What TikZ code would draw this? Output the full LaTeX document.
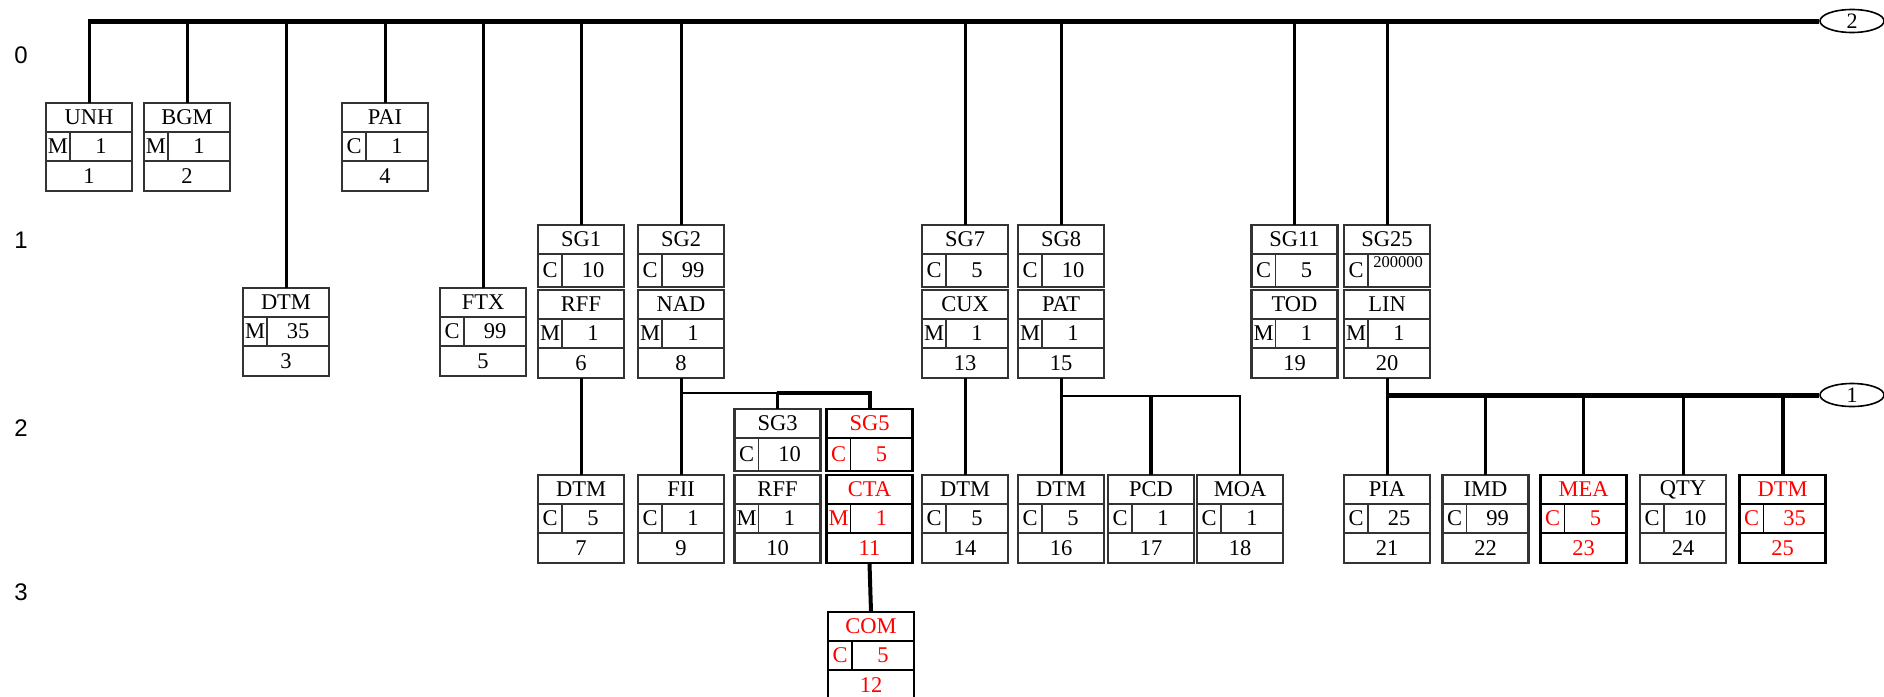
\documentclass[tikz,border=0pt]{standalone}
\usepackage{fontspec}
\setmainfont{Liberation Serif}
\newfontfamily\labelfont{Liberation Sans}
\usetikzlibrary{calc,shapes.geometric}
\tikzset{
 boxline/.style={draw=black!80, line width=2.2pt},
 redline/.style={draw=black, line width=2.6pt},
 inner/.style={line width=1.8pt},
 frame/.style={rectangle, inner sep=0pt, outer sep=0pt, minimum width=86pt},
 txt/.style={inner sep=0pt, font=\fontsize{22.5}{22.5}\selectfont},
 conn/.style={line width=3pt},
 thinconn/.style={line width=2.5pt},
 thickconn/.style={line width=4pt},
 bus/.style={line width=5pt},
 oval/.style={ellipse, draw, line width=1.6pt, minimum width=64pt, minimum height=23pt, inner sep=0pt, font=\fontsize{22}{22}\selectfont},
 lvl/.style={font=\labelfont\fontsize{24}{24}\selectfont, inner sep=0pt},
}
% #1 name, #2 centre x, #3 top, #4 tag, #5 status, #6 repeat, #7 position, #8 text colour, #9 border style
\newcommand\segbox[9]{%
 \begin{scope}[shift={(#2-43,#3)}]
  \node[frame, minimum height=88pt, #9] (#1) at (43,44) {};
  \draw[#9,inner] (0,29) -- (86,29) (0,58) -- (86,58) (24,29) -- (24,58);
  \node[txt,text=#8] at (43,14.5) {#4};
  \node[txt,text=#8] at (12,43.5) {#5};
  \node[txt,text=#8] at (55,43.5) {#6};
  \node[txt,text=#8] at (43,73) {#7};
 \end{scope}}
% #1 name, #2 centre x, #3 top, #4 tag, #5 repeat, #6 text colour, #7 border style
\newcommand\sgbox[7]{%
 \begin{scope}[shift={(#2-43,#3)}]
  \node[frame, minimum height=62pt, #7] (#1) at (43,31) {};
  \draw[#7,inner] (0,29) -- (86,29) (24,29) -- (24,62);
  \node[txt,text=#6] at (43,14.5) {#4};
  \node[txt,text=#6] at (12,45.5) {C};
  \node[txt,text=#6] at (55,45.5) {#5};
 \end{scope}}
\begin{document}
\begin{tikzpicture}[x=1pt,y=-1pt]
\useasboundingbox[fill=white] (0,0) rectangle (1884,696);

% level labels
\node[lvl] (L0) at (21,55) {0};
\node[lvl] (L1) at (21,240) {1};
\node[lvl] (L2) at (21,428) {2};
\node[lvl] (L3) at (21,592) {3};

% level 0
\segbox{UNH}{89}{103}{UNH}{M}{1}{1}{black}{boxline}
\segbox{BGM}{187}{103}{BGM}{M}{1}{2}{black}{boxline}
\segbox{PAI}{385}{103}{PAI}{C}{1}{4}{black}{boxline}

% level 1
\segbox{DTMc}{286}{288}{DTM}{M}{35}{3}{black}{boxline}
\segbox{FTX}{483}{288}{FTX}{C}{99}{5}{black}{boxline}
\sgbox{SG1}{581}{225}{SG1}{10}{black}{boxline}
\segbox{RFFa}{581}{290}{RFF}{M}{1}{6}{black}{boxline}
\sgbox{SG2}{681}{225}{SG2}{99}{black}{boxline}
\segbox{NAD}{681}{290}{NAD}{M}{1}{8}{black}{boxline}
\sgbox{SG7}{965}{225}{SG7}{5}{black}{boxline}
\segbox{CUX}{965}{290}{CUX}{M}{1}{13}{black}{boxline}
\sgbox{SG8}{1061}{225}{SG8}{10}{black}{boxline}
\segbox{PAT}{1061}{290}{PAT}{M}{1}{15}{black}{boxline}
\sgbox{SG11}{1294.5}{225}{SG11}{5}{black}{boxline}
\segbox{TOD}{1294.5}{290}{TOD}{M}{1}{19}{black}{boxline}
\sgbox{SG25}{1387}{225}{SG25}{}{black}{boxline}
\node[inner sep=0pt, font=\fontsize{16.5}{16.5}\selectfont] (SG25n) at ($(SG25.north west)+(54,37)$) {200000};
\segbox{LIN}{1387}{290}{LIN}{M}{1}{20}{black}{boxline}

% level 2
\sgbox{SG3}{777.5}{409}{SG3}{10}{black}{boxline}
\sgbox{SG5}{869.5}{409}{SG5}{5}{red}{redline}
\segbox{DTMg}{581}{475}{DTM}{C}{5}{7}{black}{boxline}
\segbox{FII}{681}{475}{FII}{C}{1}{9}{black}{boxline}
\segbox{RFFj}{777.5}{475}{RFF}{M}{1}{10}{black}{boxline}
\segbox{CTA}{869.5}{475}{CTA}{M}{1}{11}{red}{redline}
\segbox{DTMn}{965}{475}{DTM}{C}{5}{14}{black}{boxline}
\segbox{DTMp}{1061}{475}{DTM}{C}{5}{16}{black}{boxline}
\segbox{PCD}{1151}{475}{PCD}{C}{1}{17}{black}{boxline}
\segbox{MOA}{1240}{475}{MOA}{C}{1}{18}{black}{boxline}
\segbox{PIA}{1387}{475}{PIA}{C}{25}{21}{black}{boxline}
\segbox{IMD}{1485.5}{475}{IMD}{C}{99}{22}{black}{boxline}
\segbox{MEA}{1583.5}{475}{MEA}{C}{5}{23}{red}{redline}
\segbox{QTY}{1683}{475}{QTY}{C}{10}{24}{black}{boxline}
\segbox{DTMy}{1782.5}{475}{DTM}{C}{35}{25}{red}{redline}

% level 3
\segbox{COM}{871}{612}{COM}{C}{5}{12}{red}{redline}

% main bus
\node[oval] (e2) at (1852,21) {2};
\coordinate (b0) at (0,21);
\draw[bus] ([xshift=-1.5pt]UNH.north |- b0) -- (e2.west);
\foreach \n in {UNH,BGM,DTMc,PAI,FTX,SG1,SG2,SG7,SG8,SG11,SG25}
  \draw[conn] (\n.north |- b0) -- (\n.north);

% NAD group
\coordinate (s1) at (0,393);
\draw[conn] (NAD.south) -- (FII.north);
\draw[thinconn] (NAD.south |- s1) -- (SG3.north |- s1);
\draw[thickconn] ([xshift=-1pt]SG3.north |- s1) -- ([xshift=2pt]SG5.north |- s1);
\draw[thinconn] (SG3.north |- s1) -- (SG3.north);
\draw[thickconn] (SG5.north |- s1) -- (SG5.north);

% single drops
\draw[conn] (RFFa.south) -- (DTMg.north);
\draw[conn] (CUX.south) -- (DTMn.north);
\draw[thickconn] (CTA.south) -- (COM.north);

% PAT group
\coordinate (s2) at (0,396);
\draw[conn] (PAT.south) -- (DTMp.north);
\draw[thinconn] (PAT.south |- s2) -- (MOA.north |- s2) -- (MOA.north);
\draw[thickconn] (PCD.north |- s2) -- (PCD.north);

% LIN group
\node[oval] (e1) at (1852,395) {1};
\draw[conn] (LIN.south) -- (PIA.north);
\draw[bus] ([xshift=-1.5pt]LIN.south |- e1) -- (e1.west);
\foreach \n in {IMD,MEA,QTY}
  \draw[conn] (\n.north |- e1) -- (\n.north);
\draw[thickconn] (DTMy.north |- e1) -- (DTMy.north);
\end{tikzpicture}
\end{document}
